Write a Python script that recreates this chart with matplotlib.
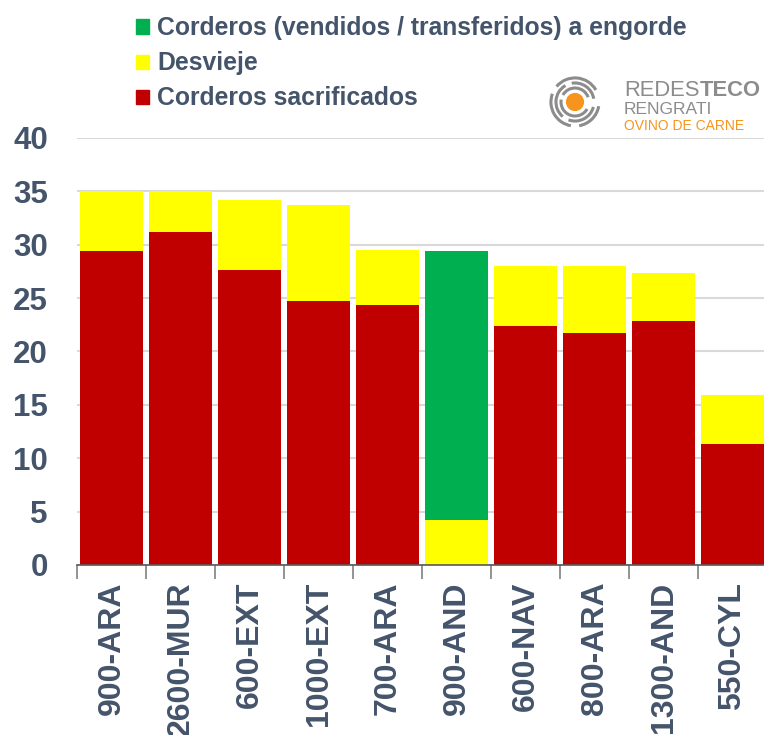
import matplotlib.pyplot as plt
import numpy as np
from matplotlib.patches import Patch, Circle, Arc

# data
granjas = ['900-ARA', '2600-MUR', '600-EXT', '1000-EXT', '700-ARA',
           '900-AND', '600-NAV', '800-ARA', '1300-AND', '550-CYL']
sacrificados = [29.4, 31.2, 27.6, 24.7, 24.4, 0.0, 22.4, 21.7, 22.9, 11.3]
desvieje = [5.6, 3.8, 6.6, 9.0, 5.1, 4.2, 5.6, 6.3, 4.5, 4.6]
engorde = [0, 0, 0, 0, 0, 25.2, 0, 0, 0, 0]

rojo = '#C00000'
amarillo = '#FFFF00'
verde = '#00B050'
texto = '#44546A'

plt.rcParams['font.family'] = ['Liberation Sans', 'DejaVu Sans']

fig = plt.figure(figsize=(7.64, 7.35), dpi=100)
W, H = 764, 735
ax = fig.add_axes([77 / W, (H - 565) / H, 690 / W, (565 - 138) / H])

x = np.arange(len(granjas))
s = np.array(sacrificados)
d = np.array(desvieje)
e = np.array(engorde)
ax.bar(x, s, width=0.9, color=rojo, zorder=3)
ax.bar(x, d, bottom=s, width=0.9, color=amarillo, zorder=3)
ax.bar(x, e, bottom=s + d, width=0.9, color=verde, zorder=3)

ax.set_xlim(-0.5, len(granjas) - 0.5)
ax.set_ylim(0, 40)
ax.set_yticks(range(0, 41, 5))
ax.yaxis.grid(True, color='#D9D9D9', linewidth=1.5, zorder=0)
ax.tick_params(axis='y', length=0, pad=21, labelsize=22.5, labelcolor=texto)
for lab in ax.get_yticklabels():
    lab.set_fontweight('bold')

# category boundary ticks, labels in between
ax.set_xticks(np.arange(-0.5, len(granjas), 1))
ax.set_xticklabels([])
ax.set_xticks(x, minor=True)
ax.set_xticklabels(granjas, minor=True, rotation=90, fontsize=23,
                   fontweight='bold', color=texto)
ax.tick_params(axis='x', which='major', length=10, color='#808080', width=1.2)
ax.tick_params(axis='x', which='minor', length=0, pad=12)

for side in ['top', 'right', 'left']:
    ax.spines[side].set_visible(False)
ax.spines['bottom'].set_color('#595959')
ax.spines['bottom'].set_linewidth(1.2)
ax.spines['bottom'].set_zorder(4)

handles = [Patch(color=verde), Patch(color=amarillo), Patch(color=rojo)]
labels = ['Corderos (vendidos / transferidos) a engorde', 'Desvieje',
          'Corderos sacrificados']
fig.legend(handles, labels, loc='upper left', bbox_to_anchor=(114 / W, 1 + 6 / H),
           frameon=False, labelcolor=texto, handlelength=0.5,
           handleheight=0.5, handletextpad=0.35, labelspacing=0.45,
           prop={'weight': 'bold', 'size': 17.8})

# logo
lax = fig.add_axes([547 / W, (H - 130) / H, 56 / W, 56 / H])
lax.set_xlim(-1, 1)
lax.set_ylim(-1, 1)
lax.axis('off')
lax.add_patch(Circle((0, 0), 0.3, color='#F7941D'))
for r, segs in [(0.5, [(20, 150), (170, 330)]),
                (0.68, [(10, 100), (120, 230), (250, 345)]),
                (0.86, [(30, 140), (160, 260), (280, 350)])]:
    for a1, a2 in segs:
        lax.add_patch(Arc((0, 0), 2 * r, 2 * r, theta1=a1, theta2=a2,
                          color='#8C8C8C', linewidth=2.2))
t1 = fig.text(624 / W, 1 - 91 / H, 'REDES', fontsize=15.8, color='#8C8C8C', va='center')
fig.canvas.draw()
bb = t1.get_window_extent()
fig.text(bb.x1 / W, 1 - 91 / H, 'TECO', fontsize=15.8, color='#8C8C8C',
         fontweight='bold', va='center')
fig.text(624 / W, 1 - 109 / H, 'RENGRATI', fontsize=12.5, color='#8C8C8C', va='center')
fig.text(624 / W, 1 - 126 / H, 'OVINO DE CARNE', fontsize=10, color='#F7941D',
         va='center')

fig.savefig('out.png', dpi=100)
